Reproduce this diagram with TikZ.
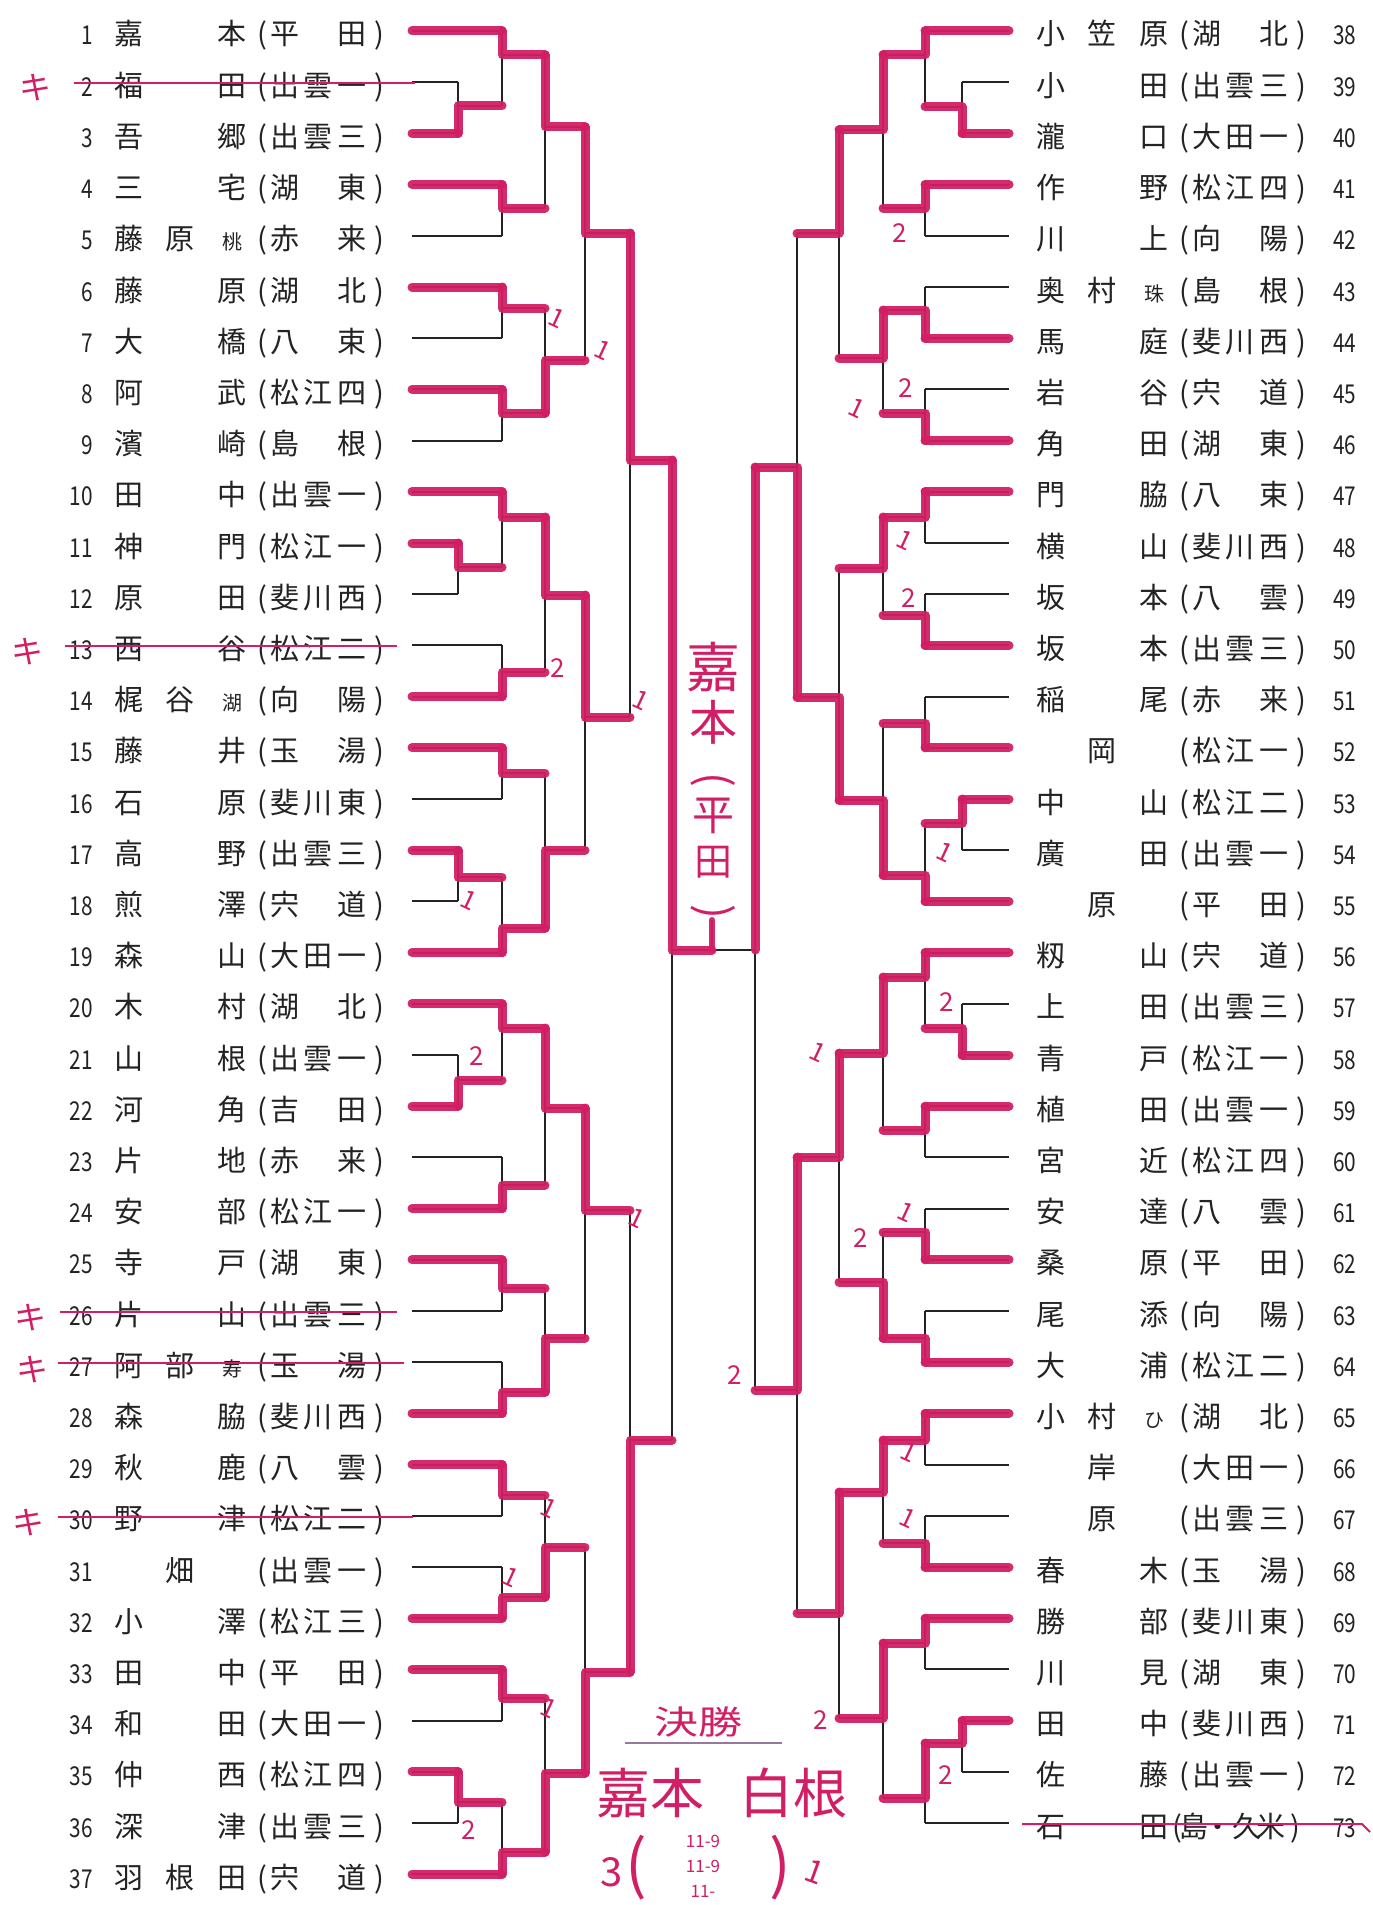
\documentclass[tikz,border=0pt]{standalone}
\usepackage{fontspec}
\setmainfont{Noto Sans CJK JP}
\usetikzlibrary{calc}
\pgfdeclarelayer{paper}
\pgfdeclarelayer{top}
\pgfsetlayers{paper,main,top}
\definecolor{mk}{RGB}{210,30,100}
\definecolor{ink}{RGB}{35,35,35}
\definecolor{ul}{RGB}{150,120,160}
\newcommand\RY[1]{(31+(#1-1-37*(#1>37))*51.2)}
\newcommand\pc[2]{\makebox[0pt][l]{\hspace*{#1pt}\makebox[0pt][c]{#2}}}
\newcommand\sm[1]{{\fontsize{10}{10}\selectfont #1}}
\newcommand\EL[7]{\node[txt] (t#1) at (129,{\RY{#1}+14}) {\pc{0}{#2}\pc{25.5}{#3}\pc{51.5}{#4}\pc{66.5}{(}\pc{78}{#5}\pc{94.5}{#6}\pc{111.5}{#7}\pc{125}{)}};
 \node[num, anchor=base east] (n#1) at (93,{\RY{#1}+14}) {\scalebox{0.8}[1]{#1}};}
\newcommand\ER[7]{\node[txt] (t#1) at (1051,{\RY{#1}+14}) {\pc{0}{#2}\pc{25.5}{#3}\pc{51.5}{#4}\pc{66.5}{(}\pc{78}{#5}\pc{94.5}{#6}\pc{111.5}{#7}\pc{125}{)}};
 \node[num, anchor=base west] (n#1) at (1333,{\RY{#1}+14}) {\scalebox{0.8}[1]{#1}};}
\newcommand\LW[2]{\draw[blk] (#1) -- (#1 -| #2);\begin{pgfonlayer}{top}\draw[mag] (#1) -- (#1 -| #2);\end{pgfonlayer}}
\newcommand\LL[2]{\draw[blk] (#1) -- (#1 -| #2);}
\newcommand\M[5]{\draw[blk] (#3 -| #1) -- (#4 -| #1) (#1) -- (#1 -| #2);\begin{pgfonlayer}{top}\draw[mag] (#5 -| #1) -- (#1) -- (#1 -| #2);\end{pgfonlayer}}
\tikzset{
 blk/.style={draw=ink, line width=1pt},
 mag/.style={draw=mk, draw opacity=0.94, line width=4.5pt, line cap=round, line join=round},
 txt/.style={anchor=base, inner sep=0pt, text=ink, font=\fontsize{14.5}{14.5}\selectfont},
 num/.style={inner sep=0pt, text=ink, font=\fontsize{13}{13}\selectfont},
 hw/.style={inner sep=0pt, text=mk},
 sc/.style={inner sep=0pt, text=mk, font=\fontsize{13}{13}\selectfont},
 strike/.style={draw=mk, line width=1pt},
 kmark/.style={inner sep=0pt, text=mk, font=\fontsize{16}{16}\selectfont},
}
\begin{document}
\begin{tikzpicture}[x=0.5pt,y=-0.5pt]
\begin{pgfonlayer}{paper}\fill[white] (0,0) rectangle (1372,1905);\end{pgfonlayer}
\useasboundingbox (0,0) rectangle (1372,1905);
% leaf coordinates
\foreach \i in {1,...,37} {\coordinate (e\i) at (412,{31+(\i-1)*51.2});}
\foreach \i in {38,...,73} {\coordinate (e\i) at (1009,{31+(\i-38)*51.2});}
% left match coordinates
\coordinate (a23) at (458,106); \coordinate (a1) at (502,55); \coordinate (a45) at (502,208);
\coordinate (b1) at (545,127); \coordinate (a67) at (502,308); \coordinate (a89) at (502,413);
\coordinate (b6) at (545,360); \coordinate (c1) at (585,233); \coordinate (d1) at (630,460);
\coordinate (a1112) at (458,567); \coordinate (a10) at (502,517); \coordinate (a1314) at (502,672);
\coordinate (b10) at (545,595); \coordinate (a1516) at (502,773); \coordinate (a1718) at (458,877);
\coordinate (a19) at (502,928); \coordinate (b15) at (545,850); \coordinate (c10) at (585,717);
\coordinate (a2122) at (458,1080); \coordinate (a20) at (502,1028); \coordinate (a2324) at (502,1185);
\coordinate (b20) at (545,1108); \coordinate (a2526) at (502,1288); \coordinate (a2728) at (502,1392);
\coordinate (b25) at (545,1338); \coordinate (c20) at (585,1210); \coordinate (d20) at (630,1440);
\coordinate (a2930) at (502,1495); \coordinate (a3132) at (502,1597); \coordinate (b29) at (545,1547);
\coordinate (a3334) at (502,1698); \coordinate (a3536) at (458,1802); \coordinate (a37) at (502,1852);
\coordinate (b33) at (545,1773); \coordinate (c29) at (585,1672);
\coordinate (mLS) at (672,950); \coordinate (mRS) at (755,950); \coordinate (champ) at (712,950);
% right match coordinates
\coordinate (r3940) at (962,107); \coordinate (r38) at (925,55); \coordinate (r4142) at (925,208);
\coordinate (s38) at (883,130); \coordinate (r4344) at (925,310); \coordinate (r4546) at (925,413);
\coordinate (s43) at (883,358); \coordinate (t38) at (839,233); \coordinate (r4748) at (925,517);
\coordinate (r4950) at (925,615); \coordinate (s47) at (883,568); \coordinate (r5152) at (925,723);
\coordinate (r5354) at (962,823); \coordinate (r55) at (925,875); \coordinate (s51) at (883,800);
\coordinate (t47) at (839,697); \coordinate (u38) at (797,467);
\coordinate (r5758) at (962,1028); \coordinate (r56) at (925,977); \coordinate (r5960) at (925,1130);
\coordinate (s56) at (883,1053); \coordinate (r6162) at (925,1232); \coordinate (r6364) at (925,1338);
\coordinate (s61) at (883,1282); \coordinate (t56) at (839,1157); \coordinate (r6566) at (925,1440);
\coordinate (r6768) at (925,1543); \coordinate (s65) at (883,1492); \coordinate (r6970) at (925,1643);
\coordinate (r7172) at (962,1743); \coordinate (r73) at (925,1798); \coordinate (s69) at (883,1718);
\coordinate (t65) at (839,1613); \coordinate (u56) at (797,1390);
% ---- left bracket
\LW{e1}{a1}
\LL{e2}{a23} \LW{e3}{a23} \M{a23}{a1}{e2}{e3}{e3}
\M{a1}{b1}{e1}{a23}{e1}
\LW{e4}{a45} \LL{e5}{a45} \M{a45}{b1}{e4}{e5}{e4}
\M{b1}{c1}{a1}{a45}{a1}
\LW{e6}{a67} \LL{e7}{a67} \M{a67}{b6}{e6}{e7}{e6}
\LW{e8}{a89} \LL{e9}{a89} \M{a89}{b6}{e8}{e9}{e8}
\M{b6}{c1}{a67}{a89}{a89}
\M{c1}{d1}{b1}{b6}{b1}
\LW{e10}{a10} \LW{e11}{a1112} \LL{e12}{a1112} \M{a1112}{a10}{e11}{e12}{e11}
\M{a10}{b10}{e10}{a1112}{e10}
\LL{e13}{a1314} \LW{e14}{a1314} \M{a1314}{b10}{e13}{e14}{e14}
\M{b10}{c10}{a10}{a1314}{a10}
\LW{e15}{a1516} \LL{e16}{a1516} \M{a1516}{b15}{e15}{e16}{e15}
\LW{e17}{a1718} \LL{e18}{a1718} \M{a1718}{a19}{e17}{e18}{e17}
\LW{e19}{a19} \M{a19}{b15}{a1718}{e19}{e19}
\M{b15}{c10}{a1516}{a19}{a19}
\M{c10}{d1}{b10}{b15}{b10}
\M{d1}{mLS}{c1}{c10}{c1}
\LW{e20}{a20} \LL{e21}{a2122} \LW{e22}{a2122} \M{a2122}{a20}{e21}{e22}{e22}
\M{a20}{b20}{e20}{a2122}{e20}
\LL{e23}{a2324} \LW{e24}{a2324} \M{a2324}{b20}{e23}{e24}{e24}
\M{b20}{c20}{a20}{a2324}{a20}
\LW{e25}{a2526} \LL{e26}{a2526} \M{a2526}{b25}{e25}{e26}{e25}
\LL{e27}{a2728} \LW{e28}{a2728} \M{a2728}{b25}{e27}{e28}{e28}
\M{b25}{c20}{a2526}{a2728}{a2728}
\M{c20}{d20}{b20}{b25}{b20}
\LW{e29}{a2930} \LL{e30}{a2930} \M{a2930}{b29}{e29}{e30}{e29}
\LL{e31}{a3132} \LW{e32}{a3132} \M{a3132}{b29}{e31}{e32}{e32}
\M{b29}{c29}{a2930}{a3132}{a3132}
\LW{e33}{a3334} \LL{e34}{a3334} \M{a3334}{b33}{e33}{e34}{e33}
\LW{e35}{a3536} \LL{e36}{a3536} \M{a3536}{a37}{e35}{e36}{e35}
\LW{e37}{a37} \M{a37}{b33}{a3536}{e37}{e37}
\M{b33}{c29}{a3334}{a37}{a37}
\M{c29}{d20}{b29}{b33}{b33}
\M{d20}{mLS}{c20}{c29}{c29}
\M{mLS}{champ}{d1}{d20}{d1}
% ---- right bracket
\LL{e39}{r3940} \LW{e40}{r3940} \M{r3940}{r38}{e39}{e40}{e40}
\LW{e38}{r38} \M{r38}{s38}{e38}{r3940}{e38}
\LW{e41}{r4142} \LL{e42}{r4142} \M{r4142}{s38}{e41}{e42}{e41}
\M{s38}{t38}{r38}{r4142}{r38}
\LL{e43}{r4344} \LW{e44}{r4344} \M{r4344}{s43}{e43}{e44}{e44}
\LL{e45}{r4546} \LW{e46}{r4546} \M{r4546}{s43}{e45}{e46}{e46}
\M{s43}{t38}{r4344}{r4546}{r4344}
\M{t38}{u38}{s38}{s43}{s38}
\LW{e47}{r4748} \LL{e48}{r4748} \M{r4748}{s47}{e47}{e48}{e47}
\LL{e49}{r4950} \LW{e50}{r4950} \M{r4950}{s47}{e49}{e50}{e50}
\M{s47}{t47}{r4748}{r4950}{r4748}
\LL{e51}{r5152} \LW{e52}{r5152} \M{r5152}{s51}{e51}{e52}{e52}
\LW{e53}{r5354} \LL{e54}{r5354} \M{r5354}{r55}{e53}{e54}{e53}
\LW{e55}{r55} \M{r55}{s51}{r5354}{e55}{e55}
\M{s51}{t47}{r5152}{r55}{r55}
\M{t47}{u38}{s47}{s51}{s51}
\M{u38}{mRS}{t38}{t47}{t47}
\LW{e56}{r56} \LL{e57}{r5758} \LW{e58}{r5758} \M{r5758}{r56}{e57}{e58}{e58}
\M{r56}{s56}{e56}{r5758}{e56}
\LW{e59}{r5960} \LL{e60}{r5960} \M{r5960}{s56}{e59}{e60}{e59}
\M{s56}{t56}{r56}{r5960}{r56}
\LL{e61}{r6162} \LW{e62}{r6162} \M{r6162}{s61}{e61}{e62}{e62}
\LL{e63}{r6364} \LW{e64}{r6364} \M{r6364}{s61}{e63}{e64}{e64}
\M{s61}{t56}{r6162}{r6364}{r6364}
\M{t56}{u56}{s56}{s61}{s56}
\LW{e65}{r6566} \LL{e66}{r6566} \M{r6566}{s65}{e65}{e66}{e65}
\LL{e67}{r6768} \LW{e68}{r6768} \M{r6768}{s65}{e67}{e68}{e68}
\M{s65}{t65}{r6566}{r6768}{r6566}
\LW{e69}{r6970} \LL{e70}{r6970} \M{r6970}{s69}{e69}{e70}{e69}
\LW{e71}{r7172} \LL{e72}{r7172} \M{r7172}{r73}{e71}{e72}{e71}
\LL{e73}{r73} \M{r73}{s69}{r7172}{e73}{r7172}
\M{s69}{t65}{r6970}{r73}{r6970}
\M{t65}{u56}{s65}{s69}{s65}
\M{u56}{mRS}{t56}{t65}{t56}
\draw[blk] (u38 -| mRS) -- (u56 -| mRS);
\begin{pgfonlayer}{top}\draw[mag] (u38 -| mRS) -- (mRS);\end{pgfonlayer}
\draw[blk] (champ) -- (mRS);
\draw[blk] (champ) -- ++(0,-30);
\begin{pgfonlayer}{top}\draw[mag, line width=3pt] (champ) -- ++(0,-30);\end{pgfonlayer}
% ---- entries left
\EL{1}{嘉}{}{本}{平}{}{田}
\EL{2}{福}{}{田}{出}{雲}{一}
\EL{3}{吾}{}{郷}{出}{雲}{三}
\EL{4}{三}{}{宅}{湖}{}{東}
\EL{5}{藤}{原}{\sm{桃}}{赤}{}{来}
\EL{6}{藤}{}{原}{湖}{}{北}
\EL{7}{大}{}{橋}{八}{}{束}
\EL{8}{阿}{}{武}{松}{江}{四}
\EL{9}{濱}{}{崎}{島}{}{根}
\EL{10}{田}{}{中}{出}{雲}{一}
\EL{11}{神}{}{門}{松}{江}{一}
\EL{12}{原}{}{田}{斐}{川}{西}
\EL{13}{西}{}{谷}{松}{江}{二}
\EL{14}{梶}{谷}{\sm{湖}}{向}{}{陽}
\EL{15}{藤}{}{井}{玉}{}{湯}
\EL{16}{石}{}{原}{斐}{川}{東}
\EL{17}{高}{}{野}{出}{雲}{三}
\EL{18}{煎}{}{澤}{宍}{}{道}
\EL{19}{森}{}{山}{大}{田}{一}
\EL{20}{木}{}{村}{湖}{}{北}
\EL{21}{山}{}{根}{出}{雲}{一}
\EL{22}{河}{}{角}{吉}{}{田}
\EL{23}{片}{}{地}{赤}{}{来}
\EL{24}{安}{}{部}{松}{江}{一}
\EL{25}{寺}{}{戸}{湖}{}{東}
\EL{26}{片}{}{山}{出}{雲}{三}
\EL{27}{阿}{部}{\sm{寿}}{玉}{}{湯}
\EL{28}{森}{}{脇}{斐}{川}{西}
\EL{29}{秋}{}{鹿}{八}{}{雲}
\EL{30}{野}{}{津}{松}{江}{二}
\EL{31}{}{畑}{}{出}{雲}{一}
\EL{32}{小}{}{澤}{松}{江}{三}
\EL{33}{田}{}{中}{平}{}{田}
\EL{34}{和}{}{田}{大}{田}{一}
\EL{35}{仲}{}{西}{松}{江}{四}
\EL{36}{深}{}{津}{出}{雲}{三}
\EL{37}{羽}{根}{田}{宍}{}{道}
% ---- entries right
\ER{38}{小}{笠}{原}{湖}{}{北}
\ER{39}{小}{}{田}{出}{雲}{三}
\ER{40}{瀧}{}{口}{大}{田}{一}
\ER{41}{作}{}{野}{松}{江}{四}
\ER{42}{川}{}{上}{向}{}{陽}
\ER{43}{奥}{村}{\sm{珠}}{島}{}{根}
\ER{44}{馬}{}{庭}{斐}{川}{西}
\ER{45}{岩}{}{谷}{宍}{}{道}
\ER{46}{角}{}{田}{湖}{}{東}
\ER{47}{門}{}{脇}{八}{}{束}
\ER{48}{横}{}{山}{斐}{川}{西}
\ER{49}{坂}{}{本}{八}{}{雲}
\ER{50}{坂}{}{本}{出}{雲}{三}
\ER{51}{稲}{}{尾}{赤}{}{来}
\ER{52}{}{岡}{}{松}{江}{一}
\ER{53}{中}{}{山}{松}{江}{二}
\ER{54}{廣}{}{田}{出}{雲}{一}
\ER{55}{}{原}{}{平}{}{田}
\ER{56}{籾}{}{山}{宍}{}{道}
\ER{57}{上}{}{田}{出}{雲}{三}
\ER{58}{青}{}{戸}{松}{江}{一}
\ER{59}{植}{}{田}{出}{雲}{一}
\ER{60}{宮}{}{近}{松}{江}{四}
\ER{61}{安}{}{達}{八}{}{雲}
\ER{62}{桑}{}{原}{平}{}{田}
\ER{63}{尾}{}{添}{向}{}{陽}
\ER{64}{大}{}{浦}{松}{江}{二}
\ER{65}{小}{村}{\sm{ひ}}{湖}{}{北}
\ER{66}{}{岸}{}{大}{田}{一}
\ER{67}{}{原}{}{出}{雲}{三}
\ER{68}{春}{}{木}{玉}{}{湯}
\ER{69}{勝}{}{部}{斐}{川}{東}
\ER{70}{川}{}{見}{湖}{}{東}
\ER{71}{田}{}{中}{斐}{川}{西}
\ER{72}{佐}{}{藤}{出}{雲}{一}
\node[txt] (t73) at (1051,{\RY{73}+14}) {\pc{0}{石}\pc{51.5}{田}\pc{63}{(}\pc{71.5}{島}\pc{83.5}{・}\pc{98}{久}\pc{110}{米}\pc{122}{)}};
\node[num, anchor=base west] (n73) at (1333,{\RY{73}+14}) {\scalebox{0.8}[1]{73}};
% ---- strike-outs and marks
\draw[strike] (74,83) -- (415,83);
\draw[strike] (65,646) -- (397,646);
\draw[strike] (60,1312) -- (397,1312);
\draw[strike] (58,1363) -- (404,1363);
\draw[strike] (58,1517) -- (413,1517);
\draw[strike] (1022,1824) -- (1362,1824) -- (1370,1832);
\node[kmark] (k2) at (35,88) {キ};
\node[kmark] (k13) at (27,652) {キ};
\node[kmark] (k26) at (30,1318) {キ};
\node[kmark] (k27) at (33,1370) {キ};
\node[kmark] (k30) at (28,1523) {キ};
% ---- score marks
\foreach \n/\x/\y/\t in {s1/557/318/1, s2/603/350/1, s3/558/668/2, s4/641/700/1, s5/469/900/1, s6/477/1056/2, s7/637/1218/1, s8/549/1508/1, s9/511/1577/1, s10/549/1708/1, s11/469/1830/2,
 s12/900/233/2, s13/857/408/1, s14/906/388/2, s15/905/540/1, s16/909/598/2, s17/945/852/1, s18/947/1002/2, s19/818/1052/1, s20/861/1238/2, s21/906/1212/1, s22/735/1375/2, s23/909/1452/1, s24/908/1518/1, s25/821/1720/2, s26/946/1775/2}
 {\node[sc, rotate={\t==1 ? -25 : 0}] (\n) at (\x,\y) {\t};}
% ---- champion name (vertical)
\node[hw, font=\fontsize{27}{27}\selectfont] (w1) at (713,667) {嘉};
\node[hw, font=\fontsize{24}{24}\selectfont] (w2) at (713,722) {本};
\node[hw, font=\fontsize{22}{22}\selectfont, rotate=-90] (w3) at (713,780) {(};
\node[hw, font=\fontsize{21}{21}\selectfont] (w4) at (713,816) {平};
\node[hw, font=\fontsize{19}{19}\selectfont] (w5) at (713,862) {田};
\node[hw, font=\fontsize{22}{22}\selectfont, rotate=-90] (w6) at (713,912) {)};
% ---- final result
\node[hw, font=\fontsize{22}{22}\selectfont, yscale=0.75] (f1) at (698,1722) {決勝};
\draw[ul, line width=1pt] (625,1743) -- (782,1743);
\node[hw, font=\fontsize{27}{27}\selectfont] (f2) at (650,1793) {嘉本};
\node[hw, font=\fontsize{27}{27}\selectfont] (f3) at (793,1793) {白根};
\node[hw, font=\fontsize{20}{20}\selectfont] (f4) at (612,1872) {3};
\node[hw, font=\fontsize{32}{32}\selectfont] (f5) at (636,1868) {(};
\node[hw, align=center, font=\fontsize{8.5}{12.5}\selectfont] (f6) at (703,1866) {11-9\\11-9\\11-};
\node[hw, font=\fontsize{32}{32}\selectfont] (f9) at (780,1868) {)};
\node[hw, font=\fontsize{16}{16}\selectfont, rotate=-20] (f10) at (815,1872) {1};
\end{tikzpicture}
\end{document}
